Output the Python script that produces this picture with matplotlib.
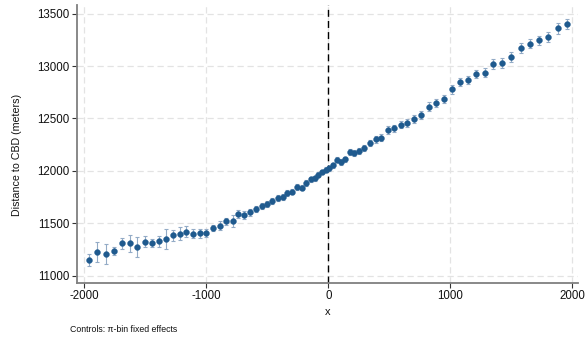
import matplotlib
matplotlib.use("Agg")
import matplotlib.pyplot as plt
import numpy as np

plt.rcParams['font.family'] = ['Liberation Sans', 'DejaVu Sans']

# Bin centres (distance to boundary) and estimated means with CI half-widths
x_left = [-1964, -1893, -1825, -1757, -1693, -1628, -1566, -1505, -1448, -1390,
          -1330, -1273, -1218, -1164, -1107, -1052, -1002, -943, -888, -836,
          -784, -738, -689, -639, -593, -546, -502, -459, -415, -374,
          -336, -295, -254, -216, -180, -144, -111, -82, -51, -20]
y_left = [11150, 11223, 11204, 11236, 11309, 11309, 11274, 11324, 11312, 11328,
          11353, 11385, 11401, 11420, 11398, 11405, 11405, 11455, 11476, 11517,
          11523, 11589, 11578, 11606, 11636, 11666, 11687, 11710, 11738, 11754,
          11788, 11803, 11843, 11840, 11884, 11918, 11930, 11965, 11990, 12012]
ci_left = [60, 97, 95, 37, 52, 80, 95, 54, 40, 52,
           94, 51, 64, 54, 43, 43, 40, 32, 42, 37,
           59, 35, 37, 32, 32, 30, 30, 30, 30, 28,
           28, 28, 28, 26, 26, 24, 24, 24, 22, 22]

x_right = [8, 41, 74, 107, 139, 178, 213, 254, 295, 342,
           389, 434, 489, 541, 593, 648, 705, 760, 823, 883,
           948, 1016, 1082, 1148, 1213, 1282, 1352, 1426, 1500, 1577,
           1651, 1725, 1801, 1880, 1959]
y_right = [12025, 12053, 12107, 12085, 12111, 12177, 12168, 12193, 12219, 12269,
           12302, 12317, 12390, 12406, 12441, 12457, 12492, 12536, 12613, 12645,
           12683, 12779, 12848, 12870, 12927, 12937, 13020, 13027, 13084, 13170,
           13214, 13246, 13278, 13361, 13399]
ci_right = [22, 22, 25, 25, 25, 28, 28, 28, 28, 30,
            32, 32, 35, 35, 35, 38, 38, 40, 40, 40,
            40, 45, 40, 40, 40, 45, 48, 48, 48, 48,
            45, 45, 45, 52, 48]

x_ticks = [-2000, -1000, 0, 1000, 2000]
y_ticks = [11000, 11500, 12000, 12500, 13000, 13500]

dot_color = '#1f5a8e'
bar_color = '#93abc6'
axis_gray = '#7f7f7f'

fig = plt.figure(figsize=(5.86, 3.39), dpi=100)
ax = fig.add_axes([77 / 586, 1 - 283 / 339, (578 - 77) / 586, (283 - 5) / 339])

xs = np.array(x_left + x_right)
ys = np.array(y_left + y_right)
cis = np.array(ci_left + ci_right)

ax.axvline(0, color='black', lw=1.0, ls=(0, (5, 3)), zorder=2)
ax.errorbar(xs, ys, yerr=cis, fmt='none', ecolor=bar_color, elinewidth=0.8,
            capsize=1.3, capthick=0.8, zorder=3)
ax.plot(xs, ys, 'o', color=dot_color, ms=4.2, mec=dot_color, mew=0.3, zorder=4)

ax.set_xlim(-2060, 2047)
ax.set_ylim(10930, 13583)
ax.set_xticks(x_ticks)
ax.set_yticks(y_ticks)
ax.set_xticklabels([str(v) for v in x_ticks])
ax.set_yticklabels([str(v) for v in y_ticks])

ax.grid(True, color='#e3e3e3', lw=0.9, ls=(0, (5, 3)))
ax.set_axisbelow(True)

for side in ['top', 'right']:
    ax.spines[side].set_visible(False)
for side in ['left', 'bottom']:
    ax.spines[side].set_color(axis_gray)
    ax.spines[side].set_linewidth(1.3)

ax.tick_params(axis='both', direction='out', length=3.8, width=0.8,
               color='#333333', labelsize=8.3, pad=1.5, labelcolor='#111111')

ax.set_xlabel('x', fontsize=8.0, labelpad=3, color='#111111')
ax.set_ylabel('Distance to CBD (meters)', fontsize=7.7, color='#111111',
              va='center')
ax.yaxis.set_label_coords(-0.12, 0.46)

fig.text(70 / 586, 1 - 329 / 339, 'Controls: π-bin fixed effects', fontsize=6.3,
         va='center', ha='left', color='#111111')

fig.savefig('out.png', dpi=100)
